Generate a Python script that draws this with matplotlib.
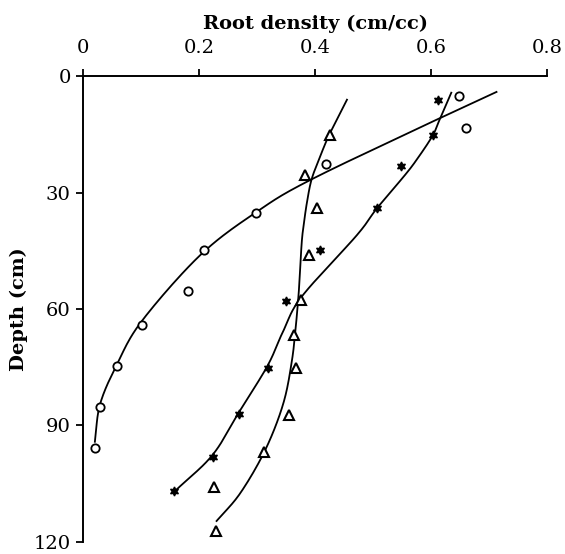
import numpy as np
import matplotlib.pyplot as plt

plt.rcParams['font.family'] = ['DejaVu Serif']

# —— measured points (root density cm/cc, depth cm)
circ_x = [0.648, 0.661, 0.419, 0.298, 0.208, 0.180, 0.102, 0.058, 0.029, 0.020]
circ_d = [5.1, 13.5, 22.7, 35.2, 44.7, 55.3, 64.1, 74.8, 85.3, 95.7]

star_x = [0.612, 0.603, 0.549, 0.507, 0.409, 0.350, 0.318, 0.269, 0.223, 0.157]
star_d = [6.1, 15.3, 23.3, 34.0, 44.9, 57.9, 75.3, 87.0, 98.0, 107.0]

tri_x = [0.426, 0.382, 0.403, 0.390, 0.375, 0.363, 0.367, 0.355, 0.312, 0.226, 0.229]
tri_d = [15.1, 25.5, 34.0, 46.1, 57.6, 66.7, 75.2, 87.4, 96.8, 105.9, 117.2]

# —— fitted curves
circ_fit_x = [0.713, 0.616, 0.394, 0.299, 0.202, 0.101, 0.058, 0.029, 0.020]
circ_fit_d = [4.1, 10.8, 26.6, 35.0, 46.1, 63.1, 74.3, 84.5, 94.2]

star_fit_x = [0.635, 0.616, 0.603, 0.576, 0.554, 0.507, 0.472, 0.377, 0.345,
              0.318, 0.269, 0.223, 0.161]
star_fit_d = [4.3, 10.8, 15.3, 21.4, 25.7, 34.0, 41.0, 56.8, 65.7,
              74.6, 86.5, 97.6, 106.5]

tri_fit_x = [0.455, 0.426, 0.409, 0.394, 0.386, 0.381, 0.377, 0.373, 0.371, 0.367,
             0.360, 0.345, 0.314, 0.271, 0.230]
tri_fit_d = [6.1, 14.6, 20.6, 26.6, 32.5, 37.6, 42.7, 52.9, 57.2, 64.0,
             73.3, 84.4, 96.3, 107.4, 114.6]

xticks = [0, 0.2, 0.4, 0.6, 0.8]
xtick_labels = ['0', '0.2', '0.4', '0.6', '0.8']
yticks = [0, 30, 60, 90, 120]


def smooth(xs, ys, n=20):
    # Catmull-Rom through the read curve points, just to round off the corners
    p = np.column_stack([xs, ys]).astype(float)
    p = np.vstack([2 * p[0] - p[1], p, 2 * p[-1] - p[-2]])
    t = np.linspace(0, 1, n, endpoint=False)[:, None]
    out = []
    for i in range(1, len(p) - 2):
        p0, p1, p2, p3 = p[i - 1], p[i], p[i + 1], p[i + 2]
        seg = 0.5 * ((2 * p1) + (-p0 + p2) * t
                     + (2 * p0 - 5 * p1 + 4 * p2 - p3) * t ** 2
                     + (-p0 + 3 * p1 - 3 * p2 + p3) * t ** 3)
        out.append(seg)
    out.append(p[-2][None, :])
    out = np.vstack(out)
    return out[:, 0], out[:, 1]


fig = plt.figure(figsize=(5.65, 5.54), dpi=100)
ax = fig.add_axes([0.1474, 0.0217, 0.8206, 0.8411])

lw = 1.3
for fx, fd in [(circ_fit_x, circ_fit_d), (star_fit_x, star_fit_d), (tri_fit_x, tri_fit_d)]:
    sx, sd = smooth(fx, fd)
    ax.plot(sx, sd, color='black', lw=lw)

ax.plot(circ_x, circ_d, 'o', ms=6, mfc='white', mec='black', mew=1.3)
ax.plot(star_x, star_d, marker=(6, 1, 0), ls='none', ms=6.5, color='black')
ax.plot(tri_x, tri_d, '^', ms=6.5, mfc='white', mec='black', mew=1.5)

ax.set_xlim(0, 0.8)
ax.set_ylim(120, 0)
ax.xaxis.tick_top()
ax.xaxis.set_label_position('top')
ax.set_xticks(xticks)
ax.set_xticklabels(xtick_labels)
ax.set_yticks(yticks)

for side in ['right', 'bottom']:
    ax.spines[side].set_visible(False)
for side in ['left', 'top']:
    ax.spines[side].set_linewidth(1.4)
ax.tick_params(direction='out', length=5, width=1.3, labelsize=14)
ax.tick_params(axis='x', pad=9)
ax.tick_params(axis='y', pad=4)

ax.set_xlabel('Root density (cm/cc)', fontsize=14, fontweight='bold', labelpad=7)
ax.set_ylabel('Depth (cm)', fontsize=14, fontweight='bold', labelpad=4)
ax.patch.set_visible(False)

fig.savefig('out.png', dpi=100)
